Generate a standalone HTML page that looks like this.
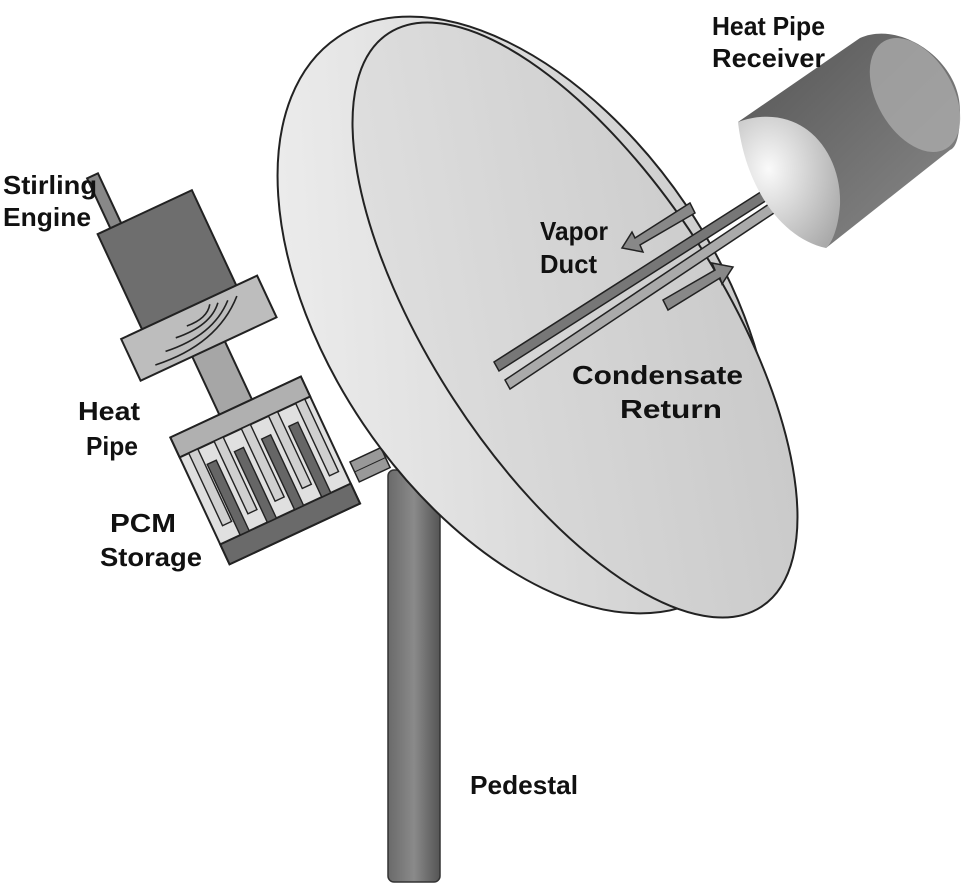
<!DOCTYPE html>
<html><head><style>
html,body{margin:0;padding:0;background:#fff;}
svg{display:block;}
text{font-family:"Liberation Sans",sans-serif;font-weight:bold;font-size:26px;fill:#111;}
</style></head><body>
<svg width="965" height="895" viewBox="0 0 965 895">
<defs>
<linearGradient id="ped" x1="0" x2="1" y1="0" y2="0"><stop offset="0" stop-color="#6a6a6a"/><stop offset="0.5" stop-color="#8a8a8a"/><stop offset="1" stop-color="#555"/></linearGradient>
<linearGradient id="dish" x1="0" x2="1" y1="0" y2="1"><stop offset="0" stop-color="#f2f2f2"/><stop offset="1" stop-color="#c4c4c4"/></linearGradient>
<linearGradient id="face" x1="0" x2="1" y1="0" y2="1"><stop offset="0" stop-color="#e2e2e2"/><stop offset="1" stop-color="#c6c6c6"/></linearGradient>
<linearGradient id="rec" x1="0" x2="1" y1="0" y2="1"><stop offset="0" stop-color="#555"/><stop offset="1" stop-color="#8a8a8a"/></linearGradient>
<radialGradient id="recf" cx="0.3" cy="0.4" r="0.8"><stop offset="0" stop-color="#fafafa"/><stop offset="1" stop-color="#aaa"/></radialGradient>
</defs>
<rect x="388" y="470" width="52" height="412" rx="6" fill="url(#ped)" stroke="#333" stroke-width="1.5"/>
<g transform="translate(350,462) rotate(-25)"><rect x="0" y="0" width="34" height="22" fill="#999" stroke="#222" stroke-width="1.5"/><line x1="0" y1="11" x2="34" y2="11" stroke="#222"/></g>
<g transform="translate(168,262) rotate(-25)" stroke="#222" stroke-width="2">
<rect x="-38" y="-110" width="12" height="60" fill="#888"/>
<rect x="-52" y="-55" width="104" height="108" fill="#6e6e6e"/>
<rect x="-18" y="95" width="36" height="70" fill="#a6a6a6"/>
<rect x="-75" y="50" width="150" height="46" fill="#bdbdbd"/>
<g fill="none" stroke="#222" stroke-width="1.6">
<path d="M-55,88 Q10,96 48,60"/><path d="M-40,80 Q10,86 38,60"/><path d="M-25,72 Q12,76 28,58"/><path d="M-10,66 Q12,68 20,56"/></g>
<rect x="-72" y="160" width="144" height="140" fill="#e0e0e0"/>
<rect x="-72" y="160" width="144" height="22" fill="#b0b0b0"/>
<rect x="-72" y="278" width="144" height="22" fill="#6a6a6a"/>
<g stroke-width="1.4">
<rect x="-62" y="182" width="10" height="80" fill="#d0d0d0"/>
<rect x="-50" y="200" width="10" height="78" fill="#666"/>
<rect x="-34" y="182" width="10" height="80" fill="#d0d0d0"/>
<rect x="-20" y="200" width="10" height="78" fill="#666"/>
<rect x="-4" y="182" width="10" height="80" fill="#d0d0d0"/>
<rect x="10" y="200" width="10" height="78" fill="#666"/>
<rect x="26" y="182" width="10" height="80" fill="#d0d0d0"/>
<rect x="40" y="200" width="10" height="78" fill="#666"/>
<rect x="56" y="182" width="10" height="80" fill="#d0d0d0"/>
</g>
</g>
<ellipse cx="525" cy="315" rx="195" ry="335" transform="rotate(-34 525 315)" fill="url(#dish)" stroke="#222" stroke-width="2"/>
<ellipse cx="575" cy="320" rx="145" ry="342" transform="rotate(-33 575 320)" fill="url(#face)" stroke="#222" stroke-width="2"/>
<g stroke="#222" stroke-width="1.5">
<polygon points="494,362 770,186 775,195 499,371" fill="#777"/>
<polygon points="505,380 775,200 780,209 510,389" fill="#aaa"/>
</g>
<g stroke="#222" stroke-width="1.5" fill="#888">
<polygon points="690,203 695,213 640,245 643,252 622,248 632,232 635,238"/>
<polygon points="668,310 663,300 715,270 712,263 733,267 722,284 720,278"/>
</g>
<path d="M738,122 L860,38 C900,20 960,60 960,110 C960,140 955,148 950,150 L826,248 Z" fill="url(#rec)"/>
<ellipse cx="915" cy="95" rx="38" ry="62" transform="rotate(-30 915 95)" fill="#aaa" opacity="0.8"/>
<path d="M738,122 C800,100 842,150 840,205 C838,232 830,245 826,248 C780,238 745,185 738,122 Z" fill="url(#recf)"/>
<text x="712" y="35" textLength="113" lengthAdjust="spacingAndGlyphs">Heat Pipe</text>
<text x="712" y="67" textLength="113" lengthAdjust="spacingAndGlyphs">Receiver</text>
<text x="3" y="194" textLength="94" lengthAdjust="spacingAndGlyphs">Stirling</text>
<text x="3" y="226" textLength="88" lengthAdjust="spacingAndGlyphs">Engine</text>
<text x="540" y="240" textLength="68" lengthAdjust="spacingAndGlyphs">Vapor</text>
<text x="540" y="273" textLength="57" lengthAdjust="spacingAndGlyphs">Duct</text>
<text x="572" y="384" textLength="171" lengthAdjust="spacingAndGlyphs">Condensate</text>
<text x="620" y="418" textLength="102" lengthAdjust="spacingAndGlyphs">Return</text>
<text x="78" y="420" textLength="62" lengthAdjust="spacingAndGlyphs">Heat</text>
<text x="86" y="455" textLength="52" lengthAdjust="spacingAndGlyphs">Pipe</text>
<text x="110" y="532" textLength="66" lengthAdjust="spacingAndGlyphs">PCM</text>
<text x="100" y="566" textLength="102" lengthAdjust="spacingAndGlyphs">Storage</text>
<text x="470" y="794" textLength="108" lengthAdjust="spacingAndGlyphs">Pedestal</text>
</svg>
</body></html>
